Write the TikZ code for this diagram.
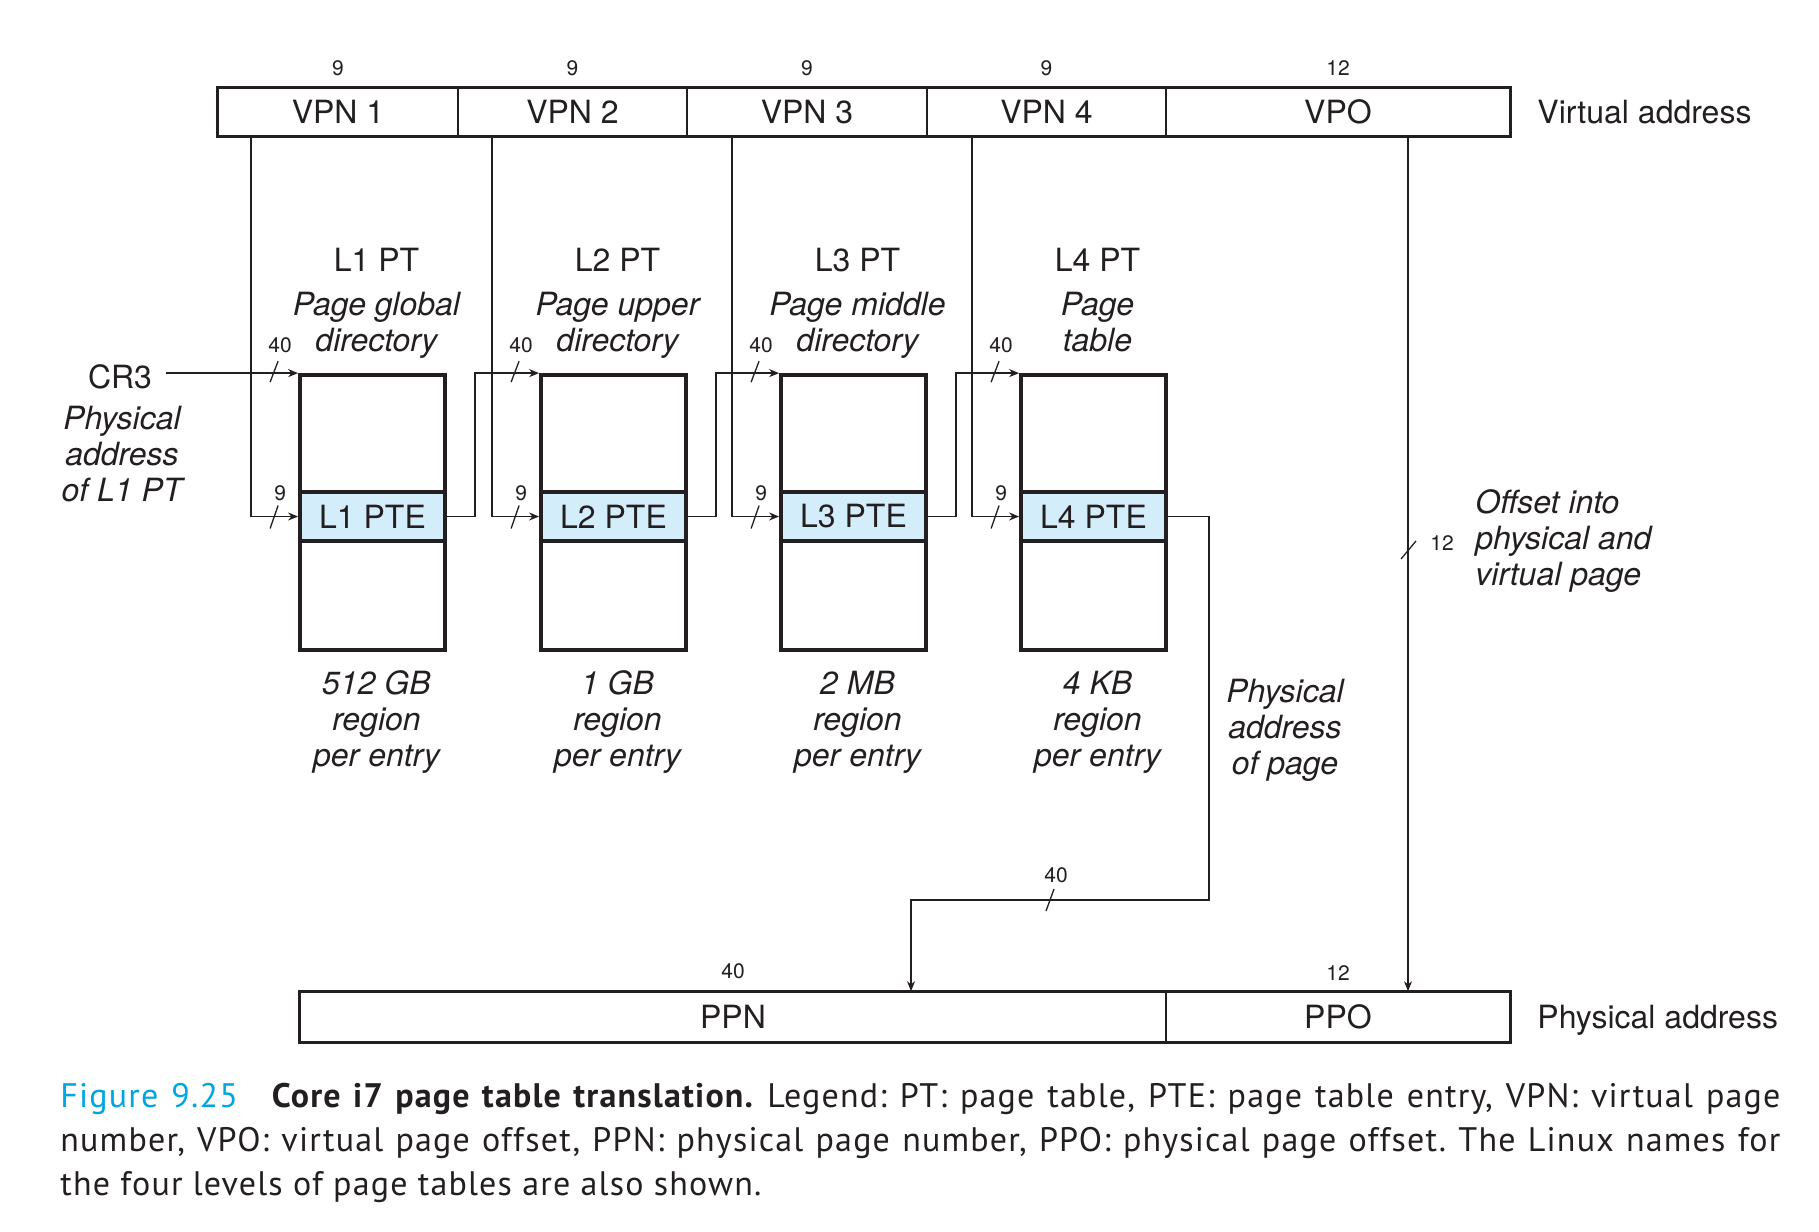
\documentclass[tikz,border=0pt]{standalone}
\usepackage{fontspec}
\setmainfont{TeX Gyre Heros}
\newfontfamily\capfont[LetterSpace=3.5]{PT Sans}
\usetikzlibrary{arrows.meta,calc}
\definecolor{ptefill}{RGB}{212,237,250}
\definecolor{figcyan}{RGB}{0,166,226}
\definecolor{inkdark}{RGB}{35,31,32}
\begin{document}
\begin{tikzpicture}[x=0.5pt,y=-0.5pt,color=inkdark,
  wire/.style={line width=0.65pt},
  conn/.style={line width=0.65pt,-{Stealth[length=5pt,width=4pt]}},
  cell/.style={draw,line width=0.8pt,inner sep=0pt,minimum height=24pt,font=\fontsize{16}{18}\selectfont},
  outer/.style={line width=1.2pt},
  tbl/.style={draw,line width=1.9pt,inner sep=0pt,minimum width=72.5pt,minimum height=137.5pt},
  pte/.style={draw,line width=1.9pt,fill=ptefill,inner sep=0pt,minimum width=72.5pt,minimum height=24.5pt,font=\fontsize{16}{18}\selectfont},
  lbl/.style={font=\fontsize{16}{18}\selectfont,inner sep=0pt,align=center},
  ilbl/.style={font=\fontsize{16}{18}\selectfont\itshape,inner sep=0pt,align=center},
  bits/.style={font=\fontsize{10.5}{12}\selectfont,inner sep=0pt},
  capstyle/.style={font=\capfont\fontsize{17}{22}\selectfont\frenchspacing,inner sep=0pt,anchor=base west}]
\useasboundingbox[fill=white] (0,0) rectangle (1819,1231);

% virtual address
\node[cell,minimum width=120pt] (vpn1) at (338,112) {VPN 1};
\node[cell,minimum width=114.5pt] (vpn2) at (572.5,112) {VPN 2};
\node[cell,minimum width=120pt] (vpn3) at (807,112) {VPN 3};
\node[cell,minimum width=119.5pt] (vpn4) at (1046.5,112) {VPN 4};
\node[cell,minimum width=172pt] (vpo) at (1338,112) {VPO};
\draw[outer] (vpn1.north west) rectangle (vpo.south east);
\node[bits] (bv1) at ([yshift=9.5pt]vpn1.north) {9};
\node[bits] (bv2) at ([yshift=9.5pt]vpn2.north) {9};
\node[bits] (bv3) at ([yshift=9.5pt]vpn3.north) {9};
\node[bits] (bv4) at ([yshift=9.5pt]vpn4.north) {9};
\node[bits] (bv5) at ([yshift=9.5pt]vpo.north) {12};
\node[lbl,anchor=west] (va) at (1537,112) {Virtual address};

% page tables
\node[tbl] (l1) at (372.5,512.5) {};
\node[tbl] (l2) at (613.5,512.5) {};
\node[tbl] (l3) at (853.5,512.5) {};
\node[tbl] (l4) at (1093.5,512.5) {};
\node[pte] (pte1) at (372.5,516.5) {L1 PTE};
\node[pte] (pte2) at (613.5,516.5) {L2 PTE};
\node[pte] (pte3) at (853.5,516.5) {L3 PTE};
\node[pte] (pte4) at (1093.5,516.5) {L4 PTE};

\node[lbl] (t1) at (376.5,260) {L1 PT};
\node[lbl] (t2) at (617.5,260) {L2 PT};
\node[lbl] (t3) at (857.5,260) {L3 PT};
\node[lbl] (t4) at (1097.5,260) {L4 PT};
\node[ilbl] (n1) at (376.5,325.5) {Page global\\directory};
\node[ilbl] (n2) at (617.5,325.5) {Page upper\\directory};
\node[ilbl] (n3) at (857.5,325.5) {Page middle\\directory};
\node[ilbl] (n4) at (1097.5,322) {Page\\table};
\node[ilbl] (r1) at (376.5,722.5) {512 GB\\region\\per entry};
\node[ilbl] (r2) at (617.5,722.5) {1 GB\\region\\per entry};
\node[ilbl] (r3) at (857.5,722.5) {2 MB\\region\\per entry};
\node[ilbl] (r4) at (1097.5,722.5) {4 KB\\region\\per entry};

% CR3
\node[lbl] (cr3) at (120,377) {CR3};
\node[ilbl] (cr3d) at (122,454) {Physical\\address\\of L1 PT};
\draw[conn,shorten <=7pt] (cr3.east |- l1.north west) -- (l1.north west);

% VPN index lines
\foreach \i/\v in {1/vpn1,2/vpn2,3/vpn3,4/vpn4}{
  \coordinate (d\i) at ([xshift=-23.5pt]l\i.west);
  \draw[conn] (d\i |- \v.south) |- (pte\i.west);
  \draw[wire] ([xshift=-14pt,yshift=-6pt]pte\i.west) -- ([xshift=-10pt,yshift=5.5pt]pte\i.west);
  \node[bits] (s\i) at ([xshift=-9pt,yshift=11.5pt]pte\i.west) {9};
  \draw[wire] ([xshift=-14pt,yshift=-4.5pt]l\i.north west) -- ([xshift=-10pt,yshift=6pt]l\i.north west);
  \node[bits] (f\i) at ([xshift=-9pt,yshift=14pt]l\i.north west) {40};
}

% table to table
\coordinate (c1) at ([xshift=14pt]l1.north east);
\coordinate (c2) at ([xshift=14pt]l2.north east);
\coordinate (c3) at ([xshift=14pt]l3.north east);
\draw[conn] (pte1.east) -| (c1) -- (l2.north west);
\draw[conn] (pte2.east) -| (c2) -- (l3.north west);
\draw[conn] (pte3.east) -| (c3) -- (l4.north west);

% physical address
\node[cell,minimum width=433pt,minimum height=25pt] (ppn) at (733,1017) {PPN};
\node[cell,minimum width=172pt,minimum height=25pt] (ppo) at (1338,1017) {PPO};
\draw[outer] (ppn.north west) rectangle (ppo.south east);
\node[bits] (bp1) at ([yshift=10pt]ppn.north) {40};
\node[bits] (bp2) at ([yshift=9pt]ppo.north) {12};
\node[lbl,anchor=west] (pa) at (1537,1020) {Physical address};

% L4 PTE to PPN
\coordinate (k1) at (1209,900);
\coordinate (k2) at (911,900);
\draw[conn] (pte4.east) -| (k1) -- (k2) -- (k2 |- ppn.north);
\coordinate (ks) at (1050,900);
\draw[wire] ($(ks)+(-4,11)$) -- ($(ks)+(4,-11)$);
\node[bits] (bk) at (1056,875) {40};
\node[ilbl] (pap) at (1285,730.5) {Physical\\address\\of page};

% VPO to PPO
\coordinate (v) at ([xshift=35pt]vpo.south);
\draw[conn] (v) -- (v |- ppo.north);
\coordinate (vs) at (1408,550);
\draw[wire] ($(vs)+(-7,9)$) -- ($(vs)+(8,-9)$);
\node[bits] (bvs) at (1442,543) {12};
\node[ilbl,anchor=west,align=left] (off) at (1475,541.5) {Offset into\\physical and\\virtual page};

% caption
\node[capstyle] (cap1) at (60,1107) {\makebox[860pt][s]{\textcolor{figcyan}{Figure 9.25}\hspace{1em}\textbf{Core i7 page table translation.} Legend: PT: page table, PTE: page table entry, VPN: virtual page}};
\node[capstyle] (cap2) at (60,1151) {\makebox[860pt][s]{number, VPO: virtual page offset, PPN: physical page number, PPO: physical page offset. The Linux names for}};
\node[capstyle] (cap3) at (60,1195) {the four levels of page tables are also shown.};
\end{tikzpicture}
\end{document}
